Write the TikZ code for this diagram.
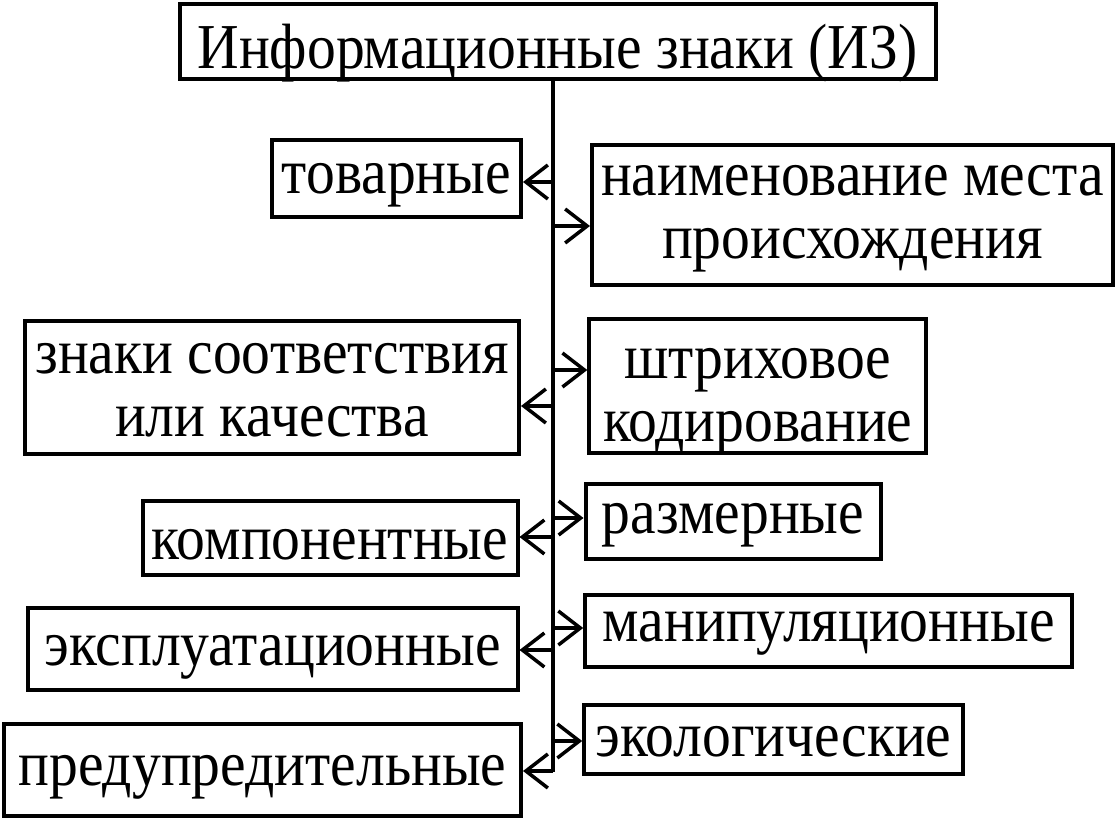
\documentclass[tikz,border=0pt]{standalone}
\usepackage{fontspec}
\setmainfont{Liberation Serif}[FakeStretch=0.9]
\usetikzlibrary{arrows.meta}
\tikzset{
  box/.style={draw,line width=4pt,inner sep=0pt,align=center,
    font=\fontsize{64}{63}\selectfont,text height=#1pt,text depth=0pt},
  box/.default=30,
  sz/.style 2 args={minimum width=#1pt,minimum height=#2pt},
  link/.style={line width=3.5pt,-{Straight Barb[length=22pt,width=34pt]}}
}

\begin{document}
\begin{tikzpicture}[x=1pt,y=-1pt]
  \useasboundingbox (0,0) rectangle (1119,821);
  \node[box=53.6,sz={756}{75}] (iz)  at (557.5,41.5) {Информационные знаки (ИЗ)};
  \node[box=29.6,sz={249}{77}] (tov) at (396.5,178.8) {товарные};
  \node[box=86.6,sz={521}{139}] (nam) at (852.5,215) {наименование места\\происхождения};
  \node[box=99.4,sz={494}{133}] (zn)  at (272,387) {знаки соответствия\\или качества};
  \node[box=111.4,sz={337}{134}] (sht) at (757.8,386) {штриховое\\кодирование};
  \node[box=44,sz={375}{74}] (kom) at (330,537.5) {компонентные};
  \node[box=24,sz={295}{75}] (raz) at (733,521.2) {размерные};
  \node[box=32,sz={490}{82}] (eks) at (272.5,649) {эксплуатационные};
  \node[box=22,sz={487}{72}] (man) at (828.7,630.5) {манипуляционные};
  \node[box=30,sz={517}{92}] (pre) at (262.5,770) {предупредительные};
  \node[box=34,sz={379}{69}] (eko) at (773.7,739.3) {экологические};
  % trunk
  \coordinate (end) at (553,772);
  \draw[line width=3.5pt] (iz.south -| end) -- (end);
  % branches
  \foreach \y/\nd/\side in {182/tov/east,406/zn/east,537/kom/east,650/eks/east,771/pre/east,
      226/nam/west,370/sht/west,518/raz/west,628/man/west,741/eko/west}
    \draw[link] (553,\y) coordinate (b) -- (b -| \nd.\side);
\end{tikzpicture}
\end{document}
